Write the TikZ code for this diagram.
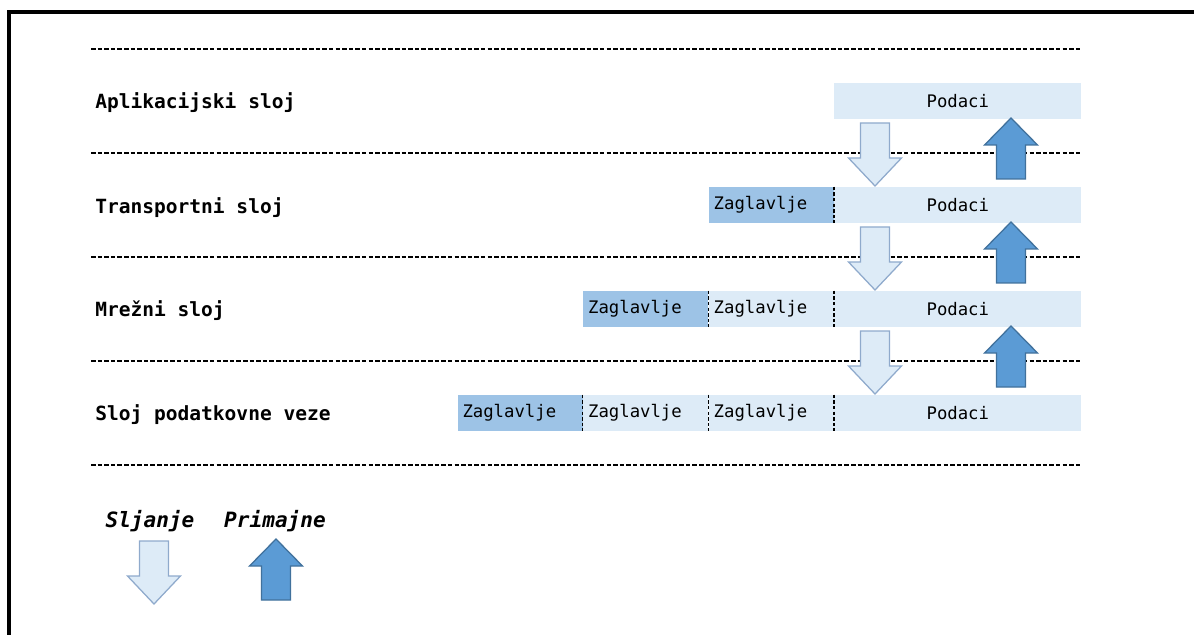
\documentclass[tikz,border=0pt]{standalone}
\usepackage{fontspec}
\setmonofont{DejaVu Sans Mono}
\usepackage{tikz}
\usetikzlibrary{positioning}
\definecolor{lightblue}{HTML}{DDEBF7}
\definecolor{darkblue}{HTML}{9DC3E6}
\definecolor{upblue}{HTML}{5B9BD5}
\definecolor{upedge}{HTML}{41719C}
\definecolor{downedge}{HTML}{8FAACC}
\begin{document}
\begin{tikzpicture}[x=0.025cm,y=-0.025cm,
		layer/.style={anchor=west,inner sep=0pt,font=\ttfamily\bfseries\fontsize{13.9}{16}\selectfont},
		legend/.style={inner sep=0pt,font=\ttfamily\bfseries\itshape\fontsize{15}{17}\selectfont},
		data box/.style={fill=lightblue,minimum width=6.175cm,minimum height=0.9cm,inner sep=0pt,font=\ttfamily\fontsize{12.3}{14}\selectfont},
		head box/.style={data box,minimum width=3.125cm,text width=2.875cm,inner xsep=0.125cm,align=left},
		new head/.style={head box,fill=darkblue},
		split/.style={dash pattern=on 2.5pt off 1.5pt,line width=0.8pt},
		sep line/.style={dash pattern=on 3.2pt off 1.5pt,line width=0.9pt},
		send/.pic={\draw[fill=lightblue,draw=downedge,line width=0.9pt] (-14.5,0) -- (14.5,0) -- (14.5,35) -- (26.5,35) -- (0,63) -- (-26.5,35) -- (-14.5,35) -- cycle;},
		receive/.pic={\draw[fill=upblue,draw=upedge,line width=0.9pt] (0,0) -- (26.5,27) -- (14.5,27) -- (14.5,61) -- (-14.5,61) -- (-14.5,27) -- (-26.5,27) -- cycle;}]

				\useasboundingbox (0,0) rectangle (1194,635);
				\draw[line width=2.2pt] (9,660) rectangle (1220,12);

				% layer borders
				\foreach \y in {49,153,257,361,465}
					\draw[sep line] (91,\y) -- (1081,\y);

				% layer names
				\node[layer] (l1) at (95,103) {Aplikacijski sloj};
				\node[layer] (l2) at (95,208) {Transportni sloj};
				\node[layer] (l3) at (95,311) {Mrežni sloj};
				\node[layer] (l4) at (95,415) {Sloj podatkovne veze};

				% data units
				\node[data box,anchor=west] (p1) at (834,101) {Podaci};
				\node[data box,anchor=west] (p2) at (834,205) {Podaci};
				\node[new head] (h2a) [left=0pt of p2] {Zaglavlje};
				\node[data box,anchor=west] (p3) at (834,309) {Podaci};
				\node[head box] (h3a) [left=0pt of p3] {Zaglavlje};
				\node[new head] (h3b) [left=0pt of h3a] {Zaglavlje};
				\node[data box,anchor=west] (p4) at (834,413) {Podaci};
				\node[head box] (h4a) [left=0pt of p4] {Zaglavlje};
				\node[head box] (h4b) [left=0pt of h4a] {Zaglavlje};
				\node[new head] (h4c) [left=0pt of h4b] {Zaglavlje};

				\foreach \n in {p2,p3,h3a,p4,h4a,h4b}
					\draw[split] (\n.north west) -- (\n.south west);

				% sending and receiving
				\foreach \y in {123,227,331} {
					\pic at (875,\y) {send};
					\pic at (1011,\y-5) {receive};
				}

				% legend
				\node[legend] (ls) at (150,521) {Sljanje};
				\node[legend] (lr) at (275,521) {Primajne};
				\pic at (154,541) {send};
				\pic at (276,539) {receive};

\end{tikzpicture}
\end{document}
